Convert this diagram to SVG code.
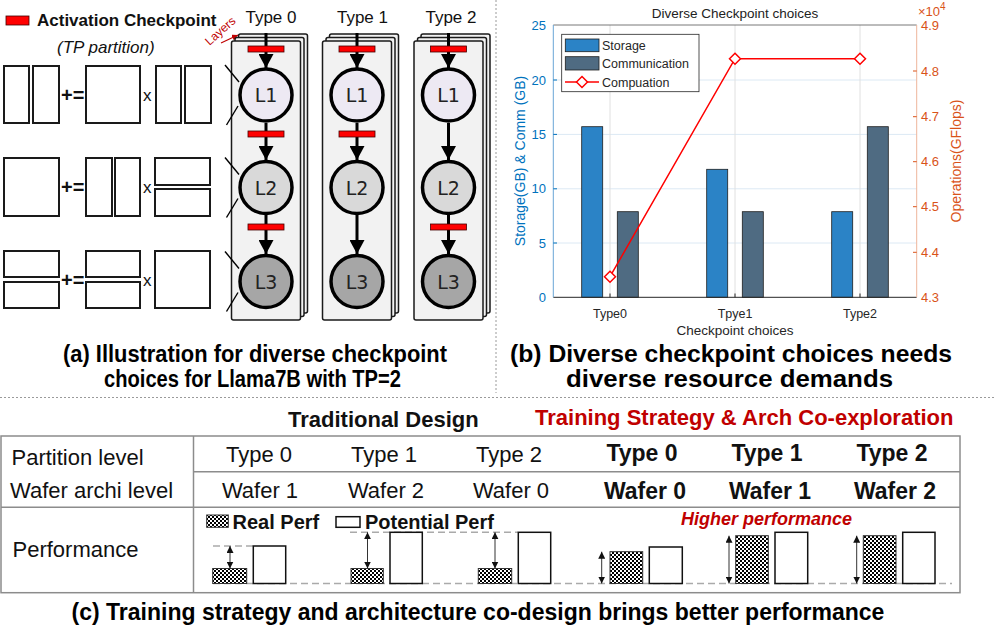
<svg xmlns="http://www.w3.org/2000/svg" width="996" height="633" viewBox="0 0 996 633">
<defs>
<style>
text{font-family:"Liberation Sans",Arial,sans-serif;}
.mat{fill:#fff;stroke:#1a1a1a;stroke-width:2;}
.op{font-size:20px;font-weight:bold;fill:#111;}
.opx{font-size:17px;fill:#111;}
.card{fill:#f2f2f2;stroke:#1a1a1a;stroke-width:1.5;}
.ck{fill:#f00;stroke:#400;stroke-width:0.8;}
.flow{stroke:#000;stroke-width:3;fill:none;marker-end:url(#ah);}
.node{stroke:#000;stroke-width:3.5;}
.lbl{font-family:"DejaVu Sans",sans-serif;font-size:19px;fill:#222;text-anchor:middle;}
.lay{stroke:#000;stroke-width:1.4;}
.hdr{font-size:17px;fill:#111;text-anchor:middle;}
.cap{font-size:23px;font-weight:bold;fill:#000;text-anchor:middle;}
.grid{stroke:#dce9f4;stroke-width:1;}
.vgrid{stroke:#e0e0e0;stroke-width:1;}
.st{fill:#2b83c6;stroke:#1f1f1f;stroke-width:0.8;}
.cm{fill:#4f6b82;stroke:#1f1f1f;stroke-width:0.8;}
.ytl{font-size:13px;fill:#0072bd;text-anchor:end;}
.ytr{font-size:13px;fill:#d95319;}
.xt{font-size:12.5px;fill:#262626;text-anchor:middle;}
.leg{font-size:12.5px;fill:#262626;}
.dia{fill:#fff;stroke:#f00;stroke-width:1.5;}
.tl{stroke:#8c8c8c;stroke-width:1.5;fill:none;}
.rt{font-size:22px;fill:#111;}
.ct{font-size:22px;fill:#111;text-anchor:middle;}
.cb{font-size:23px;font-weight:bold;fill:#111;text-anchor:middle;}
.real{fill:url(#chk);stroke:#333;stroke-width:1;}
.pot{fill:#fff;stroke:#111;stroke-width:1.5;}
.dash{stroke:#aaa;stroke-width:1.5;stroke-dasharray:7 4;fill:none;}
.dim{stroke:#333;stroke-width:1;marker-start:url(#th);marker-end:url(#th);}
</style>
<marker id="ah" markerUnits="userSpaceOnUse" markerWidth="14" markerHeight="15" refX="14" refY="7.5" orient="auto"><path d="M0,0 L14,7.5 L0,15 z" fill="#000"/></marker>
<marker id="th" markerUnits="userSpaceOnUse" markerWidth="7" markerHeight="7" refX="7" refY="3.5" orient="auto-start-reverse"><path d="M0,0 L7,3.5 L0,7 z" fill="#111"/></marker>
<marker id="ra" markerUnits="userSpaceOnUse" markerWidth="6" markerHeight="6" refX="6" refY="3" orient="auto"><path d="M0,0 L6,3 L0,6 z" fill="#c00000"/></marker>
<pattern id="chk" width="4" height="4" patternUnits="userSpaceOnUse"><rect width="4" height="4" fill="#fff"/><rect width="2" height="2" fill="#000"/><rect x="2" y="2" width="2" height="2" fill="#000"/></pattern>
</defs>
<rect width="996" height="633" fill="#fff"/>

<g id="separators">
<line x1="496" y1="0" x2="496" y2="393" stroke="#9a9a9a" stroke-width="1" stroke-dasharray="2 2"/>
<line x1="0" y1="397.5" x2="996" y2="397.5" stroke="#9a9a9a" stroke-width="1" stroke-dasharray="2 2"/>
</g>

<g id="legend-a">
<rect x="6" y="16" width="23" height="9" fill="#f00" stroke="#400" stroke-width="0.8"/>
<text x="37" y="26" font-size="17" font-weight="bold" fill="#111">Activation Checkpoint</text>
<text x="57" y="53" font-size="17" font-style="italic" fill="#111">(TP partition)</text>
</g>

<g id="tp-row1">
<rect class="mat" x="4" y="66" width="25" height="57"/>
<rect class="mat" x="33" y="66" width="26" height="57"/>
<text class="op" x="61" y="102">+=</text>
<rect class="mat" x="86" y="66" width="54" height="57"/>
<text class="opx" x="143" y="101">x</text>
<rect class="mat" x="156" y="66" width="25" height="57"/>
<rect class="mat" x="185" y="66" width="26" height="57"/>
</g>
<g id="tp-row2">
<rect class="mat" x="4" y="158" width="55" height="58"/>
<text class="op" x="61" y="194">+=</text>
<rect class="mat" x="86" y="158" width="26" height="58"/>
<rect class="mat" x="115" y="158" width="25" height="58"/>
<text class="opx" x="143" y="193">x</text>
<rect class="mat" x="155" y="158" width="55" height="27"/>
<rect class="mat" x="155" y="189" width="55" height="27"/>
</g>
<g id="tp-row3">
<rect class="mat" x="4" y="251" width="55" height="26"/>
<rect class="mat" x="4" y="282" width="55" height="26"/>
<text class="op" x="61" y="287">+=</text>
<rect class="mat" x="86" y="251" width="54" height="26"/>
<rect class="mat" x="86" y="282" width="54" height="26"/>
<text class="opx" x="143" y="286">x</text>
<rect class="mat" x="155" y="251" width="55" height="57"/>
</g>

<g id="layers-label">
<text transform="translate(223,34) rotate(-42)" font-size="12" fill="#c00000" text-anchor="middle">Layers</text>
<line x1="221" y1="43" x2="238" y2="35" stroke="#c00000" stroke-width="1.2" marker-end="url(#ra)"/>
</g>

<g id="type0">
<text class="hdr" x="271" y="23">Type 0</text>
<rect class="card" x="238.5" y="34" width="69" height="279" rx="2"/>
<rect class="card" x="235" y="37.5" width="69" height="279" rx="2"/>
<rect class="card" x="231.5" y="41" width="69" height="279" rx="2"/>
<line class="flow" x1="266" y1="33" x2="266" y2="68"/>
<line class="flow" x1="266" y1="123" x2="266" y2="160"/>
<line class="flow" x1="266" y1="215" x2="266" y2="254"/>
<rect class="ck" x="248" y="46" width="36" height="6"/>
<rect class="ck" x="248" y="131" width="36" height="6"/>
<rect class="ck" x="248" y="224" width="36" height="6"/>
<g id="t0-L1"><circle class="node" cx="266" cy="95" r="26" fill="#ede9f3"/><text class="lbl" x="266" y="102">L1</text></g>
<g id="t0-L2"><circle class="node" cx="266" cy="187.5" r="26" fill="#d9d9d9"/><text class="lbl" x="266" y="194.5">L2</text></g>
<g id="t0-L3"><circle class="node" cx="266" cy="281.5" r="26" fill="#a6a6a6"/><text class="lbl" x="266" y="288.5">L3</text></g>
<line class="lay" x1="225" y1="65" x2="239" y2="82"/>
<line class="lay" x1="226.5" y1="125" x2="238" y2="106"/>
<line class="lay" x1="225" y1="157.5" x2="239" y2="174.5"/>
<line class="lay" x1="226.5" y1="217.5" x2="238" y2="198.5"/>
<line class="lay" x1="225" y1="251.5" x2="239" y2="268.5"/>
<line class="lay" x1="226.5" y1="311.5" x2="238" y2="292.5"/>
</g>

<g id="type1">
<text class="hdr" x="362.5" y="23">Type 1</text>
<rect class="card" x="329.5" y="34" width="69" height="279" rx="2"/>
<rect class="card" x="326" y="37.5" width="69" height="279" rx="2"/>
<rect class="card" x="322.5" y="41" width="69" height="279" rx="2"/>
<line class="flow" x1="357" y1="33" x2="357" y2="68"/>
<line class="flow" x1="357" y1="123" x2="357" y2="160"/>
<line class="flow" x1="357" y1="215" x2="357" y2="254"/>
<rect class="ck" x="339" y="46" width="36" height="6"/>
<rect class="ck" x="339" y="131" width="36" height="6"/>
<g id="t1-L1"><circle class="node" cx="357" cy="95" r="26" fill="#ede9f3"/><text class="lbl" x="357" y="102">L1</text></g>
<g id="t1-L2"><circle class="node" cx="357" cy="187.5" r="26" fill="#d9d9d9"/><text class="lbl" x="357" y="194.5">L2</text></g>
<g id="t1-L3"><circle class="node" cx="357" cy="281.5" r="26" fill="#a6a6a6"/><text class="lbl" x="357" y="288.5">L3</text></g>
</g>

<g id="type2">
<text class="hdr" x="451" y="23">Type 2</text>
<rect class="card" x="421" y="34" width="69" height="279" rx="2"/>
<rect class="card" x="417.5" y="37.5" width="69" height="279" rx="2"/>
<rect class="card" x="414" y="41" width="69" height="279" rx="2"/>
<line class="flow" x1="448.5" y1="33" x2="448.5" y2="68"/>
<line class="flow" x1="448.5" y1="123" x2="448.5" y2="160"/>
<line class="flow" x1="448.5" y1="215" x2="448.5" y2="254"/>
<rect class="ck" x="430.5" y="46" width="36" height="6"/>
<rect class="ck" x="430.5" y="224" width="36" height="6"/>
<g id="t2-L1"><circle class="node" cx="448.5" cy="95" r="26" fill="#ede9f3"/><text class="lbl" x="448.5" y="102">L1</text></g>
<g id="t2-L2"><circle class="node" cx="448.5" cy="187.5" r="26" fill="#d9d9d9"/><text class="lbl" x="448.5" y="194.5">L2</text></g>
<g id="t2-L3"><circle class="node" cx="448.5" cy="281.5" r="26" fill="#a6a6a6"/><text class="lbl" x="448.5" y="288.5">L3</text></g>
</g>

<g id="caption-a">
<text class="cap" x="255" y="362" textLength="384" lengthAdjust="spacingAndGlyphs">(a) Illustration for diverse checkpoint</text>
<text class="cap" x="252.5" y="387" textLength="297" lengthAdjust="spacingAndGlyphs">choices for Llama7B with TP=2</text>
</g>

<g id="chart">
<text x="735" y="18" font-size="13.5" fill="#222" text-anchor="middle">Diverse Checkpoint choices</text>
<line class="grid" x1="553.3" y1="80" x2="916.7" y2="80"/>
<line class="grid" x1="553.3" y1="134.4" x2="916.7" y2="134.4"/>
<line class="grid" x1="553.3" y1="188.8" x2="916.7" y2="188.8"/>
<line class="grid" x1="553.3" y1="243" x2="916.7" y2="243"/>
<line class="vgrid" x1="610" y1="25" x2="610" y2="297"/>
<line class="vgrid" x1="735" y1="25" x2="735" y2="297"/>
<line class="vgrid" x1="860" y1="25" x2="860" y2="297"/>
<rect class="st" x="581.7" y="126.7" width="21" height="170.6"/>
<rect class="cm" x="617.3" y="211.7" width="21" height="85.6"/>
<rect class="st" x="706.7" y="169.3" width="21" height="128"/>
<rect class="cm" x="742.3" y="211.7" width="21" height="85.6"/>
<rect class="st" x="831.7" y="211.7" width="21" height="85.6"/>
<rect class="cm" x="867.3" y="126.7" width="21" height="170.6"/>
<line x1="553.3" y1="25" x2="916.7" y2="25" stroke="#555" stroke-width="0.8"/>
<line x1="553.3" y1="297.3" x2="916.7" y2="297.3" stroke="#262626" stroke-width="1"/>
<line x1="553.3" y1="25" x2="553.3" y2="297.3" stroke="#6aa6d6" stroke-width="1"/>
<line x1="916.7" y1="25" x2="916.7" y2="297.3" stroke="#eeb59c" stroke-width="1"/>
<g stroke="#0072bd" stroke-width="1">
<line x1="553.3" y1="80" x2="557" y2="80"/><line x1="553.3" y1="134.4" x2="557" y2="134.4"/><line x1="553.3" y1="188.8" x2="557" y2="188.8"/><line x1="553.3" y1="243" x2="557" y2="243"/>
</g>
<g stroke="#d95319" stroke-width="1">
<line x1="913" y1="71" x2="916.7" y2="71"/><line x1="913" y1="116.7" x2="916.7" y2="116.7"/><line x1="913" y1="161.7" x2="916.7" y2="161.7"/><line x1="913" y1="206.7" x2="916.7" y2="206.7"/><line x1="913" y1="252.3" x2="916.7" y2="252.3"/>
</g>
<g stroke="#262626" stroke-width="1">
<line x1="610" y1="297.3" x2="610" y2="293.5"/><line x1="735" y1="297.3" x2="735" y2="293.5"/><line x1="860" y1="297.3" x2="860" y2="293.5"/>
</g>
<text class="ytl" x="546" y="30">25</text>
<text class="ytl" x="546" y="84.5">20</text>
<text class="ytl" x="546" y="139">15</text>
<text class="ytl" x="546" y="193.3">10</text>
<text class="ytl" x="546" y="247.5">5</text>
<text class="ytl" x="546" y="302">0</text>
<text class="ytr" x="921" y="30">4.9</text>
<text class="ytr" x="921" y="75.5">4.8</text>
<text class="ytr" x="921" y="121.2">4.7</text>
<text class="ytr" x="921" y="166.2">4.6</text>
<text class="ytr" x="921" y="211.2">4.5</text>
<text class="ytr" x="921" y="256.8">4.4</text>
<text class="ytr" x="921" y="302">4.3</text>
<text x="918" y="16" font-size="13" fill="#d95319">×10<tspan font-size="10" dy="-6">4</tspan></text>
<text class="xt" x="610" y="318">Type0</text>
<text class="xt" x="735" y="318">Tpye1</text>
<text class="xt" x="860" y="318">Type2</text>
<text x="735" y="335" font-size="13.5" fill="#262626" text-anchor="middle">Checkpoint choices</text>
<text transform="translate(525,161) rotate(-90)" font-size="14" fill="#0072bd" text-anchor="middle">Storage(GB) &amp; Comm (GB)</text>
<text transform="translate(961,161) rotate(-90)" font-size="14" fill="#d95319" text-anchor="middle">Operations(GFlops)</text>
<polyline points="610,276.7 735,58.7 860,58.7" fill="none" stroke="#f00" stroke-width="1.5"/>
<path class="dia" d="M610,271.2 L615.5,276.7 L610,282.2 L604.5,276.7 z"/>
<path class="dia" d="M735,53.2 L740.5,58.7 L735,64.2 L729.5,58.7 z"/>
<path class="dia" d="M860,53.2 L865.5,58.7 L860,64.2 L854.5,58.7 z"/>
<g id="chart-legend">
<rect x="561.7" y="34.3" width="137.3" height="57.4" fill="#fff" stroke="#262626" stroke-width="0.8"/>
<rect class="st" x="565.3" y="39" width="33.7" height="12.7"/>
<rect class="cm" x="565.3" y="56.7" width="33.7" height="13.3"/>
<line x1="565" y1="82" x2="599" y2="82" stroke="#f00" stroke-width="1.5"/>
<path class="dia" d="M582,76.5 L587.5,82 L582,87.5 L576.5,82 z"/>
<text class="leg" x="602" y="50">Storage</text>
<text class="leg" x="602" y="68">Communication</text>
<text class="leg" x="602" y="86.5">Compuation</text>
</g>
</g>

<g id="caption-b">
<text class="cap" x="731" y="362" textLength="442" lengthAdjust="spacingAndGlyphs">(b) Diverse checkpoint choices needs</text>
<text class="cap" x="729.5" y="387" textLength="327" lengthAdjust="spacingAndGlyphs">diverse resource demands</text>
</g>

<g id="table">
<text x="288" y="427" font-size="22" font-weight="bold" fill="#111">Traditional Design</text>
<text x="535" y="425" font-size="22" font-weight="bold" fill="#c00000">Training Strategy &amp; Arch Co-exploration</text>
<rect class="tl" x="1" y="436" width="959" height="156.7"/>
<line class="tl" x1="193.5" y1="436" x2="193.5" y2="592.7"/>
<line class="tl" x1="193.5" y1="471.7" x2="960" y2="471.7"/>
<line class="tl" x1="1" y1="507.3" x2="960" y2="507.3"/>
<text class="rt" x="11.5" y="465">Partition level</text>
<text class="rt" x="10" y="498">Wafer archi level</text>
<text class="rt" x="12.5" y="557">Performance</text>
<text class="ct" x="259" y="462">Type 0</text>
<text class="ct" x="384" y="462">Type 1</text>
<text class="ct" x="509" y="462">Type 2</text>
<text class="cb" x="642" y="461">Type 0</text>
<text class="cb" x="767" y="461">Type 1</text>
<text class="cb" x="892" y="461">Type 2</text>
<text class="ct" x="260" y="498">Wafer 1</text>
<text class="ct" x="386" y="498">Wafer 2</text>
<text class="ct" x="511" y="498">Wafer 0</text>
<text class="cb" x="645" y="498.5">Wafer 0</text>
<text class="cb" x="770" y="498.5">Wafer 1</text>
<text class="cb" x="895" y="498.5">Wafer 2</text>
</g>

<g id="perf-legend">
<rect class="real" x="206.7" y="515" width="21.6" height="12.3"/>
<text x="232.5" y="528.5" font-size="20" font-weight="bold" fill="#111">Real Perf</text>
<rect class="pot" x="336" y="516.7" width="24" height="10.6" stroke-width="1"/>
<text x="365" y="528.5" font-size="20" font-weight="bold" fill="#111">Potential Perf</text>
<text x="766.5" y="524.5" font-size="18" font-weight="bold" font-style="italic" fill="#c00000" text-anchor="middle">Higher performance</text>
</g>

<g id="perf-bars">
<line class="dash" x1="213" y1="583.5" x2="952" y2="583.5"/>
<line class="dash" x1="213" y1="546" x2="253" y2="546"/>
<line class="dash" x1="350" y1="532.3" x2="518" y2="532.3"/>
<rect class="real" x="212.7" y="568.5" width="34" height="15"/>
<rect class="pot" x="253.3" y="546" width="32.4" height="37.5"/>
<line class="dim" x1="230" y1="546" x2="230" y2="568.5"/>
<rect class="real" x="351" y="568.5" width="32.3" height="15"/>
<rect class="pot" x="390" y="532.3" width="32.3" height="51.2"/>
<line class="dim" x1="367.5" y1="532.3" x2="367.5" y2="568.5"/>
<rect class="real" x="478.3" y="568.5" width="33.4" height="15"/>
<rect class="pot" x="518.3" y="532.3" width="32.4" height="51.2"/>
<line class="dim" x1="495" y1="532.3" x2="495" y2="568.5"/>
<rect class="real" x="610" y="551.7" width="32.7" height="31.8"/>
<rect class="pot" x="649.3" y="547" width="33" height="36.5"/>
<line class="dim" x1="601.7" y1="551.7" x2="601.7" y2="583.5"/>
<rect class="real" x="735.7" y="535.7" width="32.6" height="47.8"/>
<rect class="pot" x="775" y="532.3" width="32.7" height="51.2"/>
<line class="dim" x1="729" y1="535.7" x2="729" y2="583.5"/>
<rect class="real" x="863.3" y="535.7" width="32.7" height="47.8"/>
<rect class="pot" x="902.7" y="532.3" width="32.3" height="51.2"/>
<line class="dim" x1="856.7" y1="535.7" x2="856.7" y2="583.5"/>
</g>

<g id="caption-c">
<text x="478" y="620" font-size="23" font-weight="bold" fill="#000" text-anchor="middle">(c) Training strategy and architecture co-design brings better performance</text>
</g>
</svg>
